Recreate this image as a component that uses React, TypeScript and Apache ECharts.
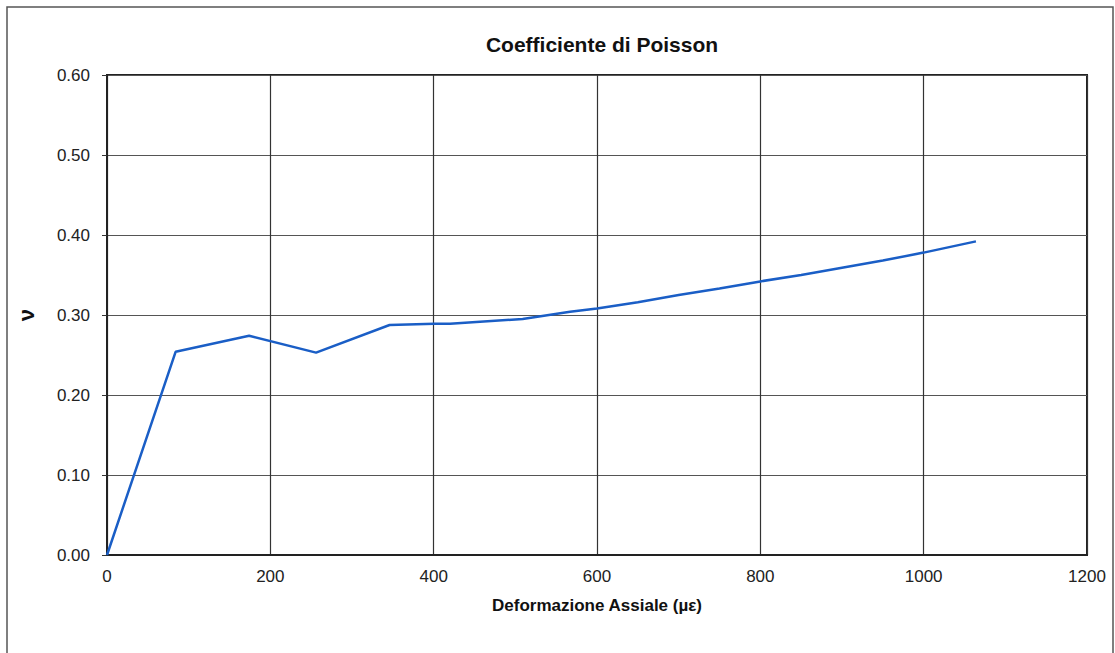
import React, { useEffect, useRef } from "react";
import * as echarts from "echarts";

const strain = [0, 84, 174, 256, 346, 401, 420, 509, 567, 600, 650, 700, 750, 800, 850, 900, 950, 1000, 1064];
const poisson = [0, 0.254, 0.274, 0.253, 0.2875, 0.289, 0.289, 0.295, 0.304, 0.308, 0.316, 0.325, 0.333, 0.342, 0.35, 0.359, 0.368, 0.378, 0.392];

const titleText = "Coefficiente di Poisson";
const xName = "Deformazione Assiale (µε)";
const yName = "ν";

export default function App() {
  const ref = useRef<HTMLDivElement>(null);
  useEffect(() => {
    if (!ref.current) return;
    const chart = echarts.init(ref.current, null, { renderer: "svg" });
    const font = "'Liberation Sans', Arial, sans-serif";
    chart.setOption({
      animation: false,
      backgroundColor: "#ffffff",
      textStyle: { fontFamily: font },
      title: {
        text: titleText,
        left: 597,
        top: 29,
        textAlign: "center",
        textStyle: { fontSize: 21, fontWeight: "bold", color: "#111", fontFamily: font },
      },
      graphic: [
        {
          type: "rect",
          shape: { x: 7, y: 7, width: 1106, height: 660 },
          style: { fill: "none", stroke: "#555", lineWidth: 1.5 },
        },
      ],
      grid: {
        left: 107,
        right: 28,
        top: 75,
        bottom: 98,
        show: true,
        borderColor: "#222",
        borderWidth: 2,
        backgroundColor: "transparent",
      },
      xAxis: {
        type: "value",
        min: 0,
        max: 1200,
        interval: 200,
        name: xName,
        nameLocation: "middle",
        nameGap: 42,
        nameTextStyle: { fontSize: 17, fontWeight: "bold", color: "#111", fontFamily: font },
        axisLine: { show: true, lineStyle: { color: "#222", width: 2 } },
        axisTick: { show: false },
        axisLabel: {
          fontSize: 17,
          color: "#222",
          margin: 13,
          fontFamily: font,
          formatter: (v: number) => String(v),
        },
        splitLine: { show: true, lineStyle: { color: "#333", width: 1.2 } },
      },
      yAxis: {
        type: "value",
        min: 0,
        max: 0.6,
        interval: 0.1,
        name: yName,
        nameLocation: "middle",
        nameRotate: 90,
        nameGap: 70,
        nameTextStyle: { fontSize: 22, fontWeight: "bold", color: "#111", fontFamily: font },
        axisLine: { show: true, lineStyle: { color: "#222", width: 2 } },
        axisTick: { show: true, inside: false, length: 5, lineStyle: { color: "#333" } },
        axisLabel: {
          fontSize: 17,
          color: "#222",
          margin: 17,
          fontFamily: font,
          formatter: (v: number) => v.toFixed(2),
        },
        splitLine: { show: true, lineStyle: { color: "#555", width: 1.2 } },
      },
      series: [
        {
          type: "line",
          data: strain.map((x, i) => [x, poisson[i]]),
          showSymbol: false,
          symbol: "none",
          lineStyle: { color: "#1a5ec6", width: 2.5 },
        },
      ],
    });
    return () => chart.dispose();
  }, []);
  return (
    <div
      ref={ref}
      style={{ position: "fixed", left: 0, top: 0, width: 1115, height: 653 }}
    />
  );
}
